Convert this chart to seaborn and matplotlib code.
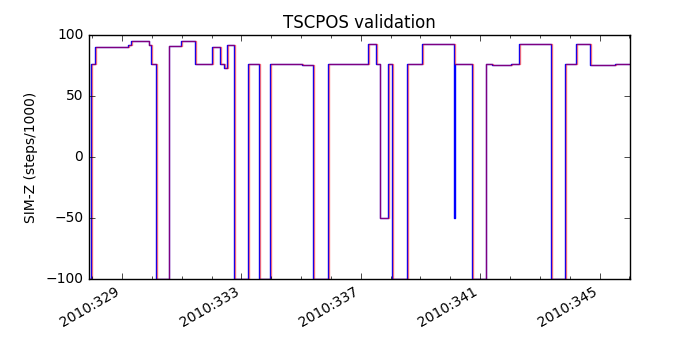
import matplotlib
matplotlib.use("Agg")
import matplotlib.pyplot as plt
import matplotlib.ticker as mticker
import numpy as np
import pandas as pd
import seaborn as sns

# ---- data (day-of-year 2010, step values in steps/1000) ----
tlm_days = [327.89, 327.96, 328.10, 329.20, 329.30, 329.90, 329.97, 330.14,
            330.57, 330.98, 331.45, 332.02, 332.28, 332.42, 332.52, 332.75,
            333.22, 333.59, 333.96, 335.03, 335.40, 335.90, 337.24, 337.51,
            337.64, 337.91, 338.05, 338.55, 339.05, 340.12, 340.14, 340.73,
            341.19, 341.40, 342.03, 342.30, 343.37, 343.84, 344.21, 344.68,
            345.52, 346.02]
tlm_vals = [-100, 76, 90, 92, 95, 92, 76, -100,
            91, 95, 76, 90, 76, 73, 92, -100,
            76, -100, 76, 75, -100, 76, 93, 76,
            -50, 76, -100, 76, 93, -50, 76, -100,
            76, 75, 76, 93, -100, 76, 93, 75,
            76, 76]

pred_days = [327.89, 327.98, 328.12, 329.22, 329.32, 329.92, 329.99, 330.16,
             330.59, 331.00, 331.47, 332.04, 332.30, 332.44, 332.54, 332.77,
             333.24, 333.61, 333.98, 335.05, 335.42, 335.92, 337.26, 337.53,
             337.66, 337.93, 338.07, 338.57, 339.07, 340.14, 340.75,
             341.21, 341.42, 342.05, 342.32, 343.39, 343.86, 344.23, 344.70,
             345.54, 346.02]
pred_vals = [-100, 76, 90, 92, 95, 92, 76, -100,
             91, 95, 76, 90, 76, 73, 92, -100,
             76, -100, 76, 75, -100, 76, 93, 76,
             -50, 76, -100, 76, 93, 76, -100,
             76, 75, 76, 93, -100, 76, 93, 75,
             76, 76]

major_days = [329, 333, 337, 341, 345]
year = 2010

plt.style.use("classic")
plt.rcParams["font.family"] = ["DejaVu Sans"]
plt.rcParams["font.size"] = 10

fig = plt.figure(figsize=(7, 3.5), dpi=100)
ax = fig.add_axes([0.127, 0.203, 0.773, 0.697])

tlm = pd.DataFrame({"day": tlm_days, "val": tlm_vals})
pred = pd.DataFrame({"day": pred_days, "val": pred_vals})

sns.lineplot(data=tlm, x="day", y="val", ax=ax, color="b", lw=1.0,
             drawstyle="steps-post", sort=False, estimator=None)
sns.lineplot(data=pred, x="day", y="val", ax=ax, color="r", lw=1.0, alpha=0.5,
             drawstyle="steps-post", sort=False, estimator=None)

ax.set_xlim(tlm_days[0], tlm_days[-1])
ax.set_ylim(-100, 100)
ax.set_yticks([-100, -50, 0, 50, 100])
ax.xaxis.set_major_locator(mticker.FixedLocator(major_days))
ax.xaxis.set_minor_locator(mticker.MultipleLocator(1))
ax.xaxis.set_major_formatter(mticker.FuncFormatter(lambda v, p: f"{year}:{int(round(v)):03d}"))
ax.set_xlabel("")
ax.set_ylabel("SIM-Z (steps/1000)", fontsize=10)
ax.set_title("TSCPOS validation", fontsize=12)
for lab in ax.get_xticklabels():
    lab.set_rotation(30)
    lab.set_ha("right")

fig.savefig("out.png", dpi=100)
